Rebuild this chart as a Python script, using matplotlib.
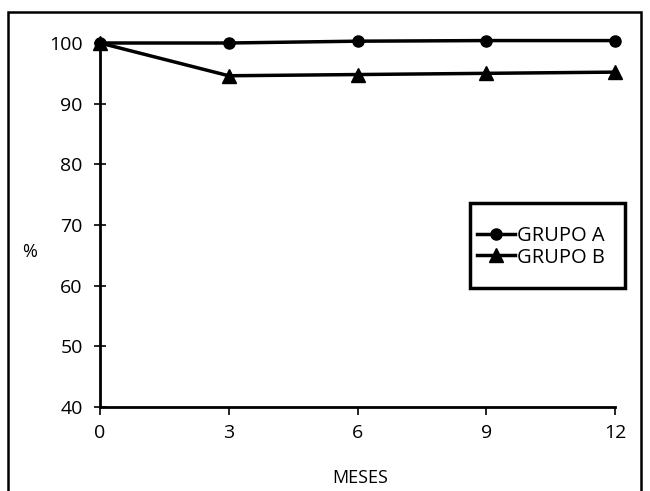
import matplotlib
matplotlib.use("Agg")
import matplotlib.pyplot as plt
from matplotlib.patches import Rectangle

# data
meses = [0, 3, 6, 9, 12]
grupo_a = [100, 100, 100.3, 100.4, 100.4]
grupo_b = [100, 94.6, 94.8, 95.0, 95.2]

plt.rcParams["font.family"] = ["Open Sans", "DejaVu Sans"]

fig = plt.figure(figsize=(6.5, 4.91), dpi=100)
ax = fig.add_axes([100 / 650, 84 / 491, 515 / 650, 364 / 491])

ax.plot(meses, grupo_a, color="black", lw=2.5, marker="o", ms=8,
        clip_on=False, label="GRUPO A", zorder=3)
ax.plot(meses, grupo_b, color="black", lw=2.5, marker="^", ms=10,
        clip_on=False, label="GRUPO B", zorder=3)

ax.set_xlim(0, 12)
ax.set_ylim(40, 100)
ax.set_xticks(meses)
ax.set_yticks(range(40, 101, 10))
ax.spines[["top", "right"]].set_visible(False)
ax.spines[["left", "bottom"]].set_linewidth(2)
ax.tick_params(axis="both", width=1.2, labelsize=14, colors="black")
ax.tick_params(axis="y", direction="inout", length=9, pad=8)
ax.tick_params(axis="x", direction="out", length=6, pad=6)

fig.text(30 / 650, 1 - 252 / 491, "%", fontsize=13, ha="center", va="center")
fig.text(360 / 650, 1 - 478 / 491, "MESES", fontsize=13, ha="center", va="center")

# legend entries without frame, box drawn separately
ax.legend(loc="center left", bbox_to_anchor=(477 / 650, 1 - 247 / 491),
          bbox_transform=fig.transFigure, frameon=False, fontsize=14.5,
          handlelength=1.9, handletextpad=0.1, borderpad=0,
          labelspacing=0.05, borderaxespad=0)
fig.patches.append(Rectangle((470 / 650, 1 - 288 / 491), 155 / 650, 85 / 491,
                             transform=fig.transFigure, fill=False,
                             edgecolor="black", lw=2.5))

# outer border of the figure
fig.patches.append(Rectangle((8 / 650, -0.05), 633 / 650, 1.05 - 12 / 491,
                             transform=fig.transFigure, fill=False,
                             edgecolor="black", lw=1.8))

fig.savefig("out.png", dpi=100)
